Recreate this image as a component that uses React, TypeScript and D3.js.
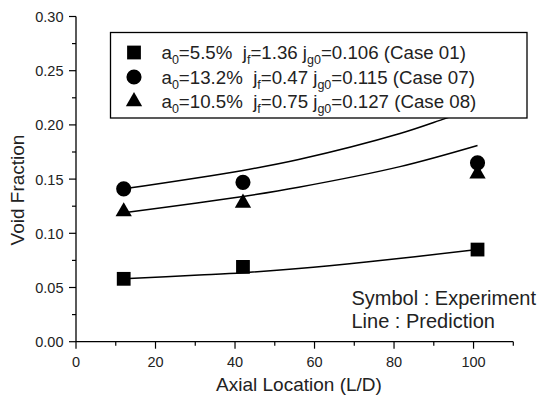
import React from 'react';
import * as d3 from 'd3';

const W = 541;
const H = 397;

// axis ticks
const xMajorTicks = [0, 20, 40, 60, 80, 100];
const xMinorTicks = [10, 30, 50, 70, 90, 110];
const yMajorTicks = [0, 0.05, 0.1, 0.15, 0.2, 0.25, 0.3];
const yMinorTicks = [0.025, 0.075, 0.125, 0.175, 0.225, 0.275];

// experiment (symbols)
const expX = [12, 42, 101];
const case01Exp = [0.058, 0.069, 0.085];
const case07Exp = [0.141, 0.147, 0.165];
const case08Exp = [0.12, 0.128, 0.155];

// prediction (lines)
const predX01 = [12, 31, 42, 56, 73, 101];
const case01Pred = [0.058, 0.0615, 0.0637, 0.0675, 0.0735, 0.085];
const predX07 = [12, 42, 56, 81.5, 93, 101];
const case07Pred = [0.141, 0.158, 0.168, 0.192, 0.206, 0.216];
const predX08 = [12, 42, 56, 81.5, 101];
const case08Pred = [0.119, 0.134, 0.1425, 0.1615, 0.181];

// legend
const legendA0 = ['5.5%', '13.2%', '10.5%'];
const legendJf = ['1.36', '0.47', '0.75'];
const legendJg0 = ['0.106', '0.115', '0.127'];
const legendCase = ['Case 01', 'Case 07', 'Case 08'];

const FONT = '"Liberation Sans", Arial, Helvetica, sans-serif';

export default function App() {
  const x = d3.scaleLinear().domain([0, 110]).range([76, 513.3]);
  const y = d3.scaleLinear().domain([0, 0.3]).range([341.7, 16.5]);

  const line = (xs: number[], ys: number[]) =>
    d3
      .line<number>()
      .x((_, i) => x(xs[i]))
      .y((d) => y(d))
      .curve(d3.curveCatmullRom.alpha(0.5))(ys) as string;

  const sq = d3.symbol().type(d3.symbolSquare).size(190)() as string;
  const ci = d3.symbol().type(d3.symbolCircle).size(180)() as string;
  const tr = d3.symbol().type(d3.symbolTriangle).size(115)() as string;
  const shapes = [sq, ci, tr];
  const expSeries = [case01Exp, case07Exp, case08Exp];
  const predSeries: [number[], number[]][] = [
    [predX01, case01Pred],
    [predX07, case07Pred],
    [predX08, case08Pred],
  ];

  const x0 = x(0);
  const y0 = y(0);

  const legendRowsY = [52.5, 77, 101.5];

  return (
    <svg
      width={W}
      height={H}
      style={{ position: 'absolute', left: 0, top: 0, background: '#fff' }}
      fontFamily={FONT}
    >
      <rect x={0} y={0} width={W} height={H} fill="#fff" />
      {/* prediction lines */}
      {predSeries.map(([xs, ys], i) => (
        <path key={'p' + i} d={line(xs, ys)} fill="none" stroke="#000" strokeWidth={1.5} />
      ))}
      {/* experiment symbols */}
      {expSeries.map((vals, si) =>
        vals.map((v, i) => (
          <path
            key={'e' + si + '-' + i}
            d={shapes[si]}
            transform={`translate(${x(expX[i])},${y(v)})`}
            fill="#000"
          />
        ))
      )}

      {/* axes */}
      <line x1={x0} x2={x0} y1={y(0.3)} y2={y0} stroke="#000" strokeWidth={1.3} />
      <line x1={x0} x2={x(110)} y1={y0} y2={y0} stroke="#000" strokeWidth={1.3} />
      {xMajorTicks.map((t) => (
        <g key={'xt' + t}>
          <line x1={x(t)} x2={x(t)} y1={y0} y2={y0 + 7} stroke="#000" strokeWidth={1.2} />
          <text x={x(t)} y={366.5} fontSize={14.5} textAnchor="middle" fill="#222">
            {t}
          </text>
        </g>
      ))}
      {xMinorTicks.map((t) => (
        <line key={'xm' + t} x1={x(t)} x2={x(t)} y1={y0} y2={y0 + 4} stroke="#000" strokeWidth={1.2} />
      ))}
      {yMajorTicks.map((t) => (
        <g key={'yt' + t}>
          <line x1={x0 - 7} x2={x0} y1={y(t)} y2={y(t)} stroke="#000" strokeWidth={1.2} />
          <text x={63.5} y={y(t) + 5.5} fontSize={14.5} textAnchor="end" fill="#222">
            {t.toFixed(2)}
          </text>
        </g>
      ))}
      {yMinorTicks.map((t) => (
        <line key={'ym' + t} x1={x0 - 4} x2={x0} y1={y(t)} y2={y(t)} stroke="#000" strokeWidth={1.2} />
      ))}

      {/* axis titles */}
      <text x={299} y={390.5} fontSize={19} textAnchor="middle" fill="#222">
        Axial Location (L/D)
      </text>
      <text
        transform="translate(23.5,190) rotate(-90)"
        fontSize={19}
        textAnchor="middle"
        fill="#222"
      >
        Void Fraction
      </text>

      {/* annotation */}
      <text x={351.5} y={305} fontSize={20} fill="#222" style={{ whiteSpace: 'pre' }}>
        Symbol : Experiment
      </text>
      <text x={351.5} y={327.5} fontSize={20} fill="#222" style={{ whiteSpace: 'pre' }}>
        Line : Prediction
      </text>

      {/* legend */}
      <rect x={110.5} y={32.5} width={416.5} height={85.5} fill="#fff" stroke="#000" strokeWidth={1.3} />
      {legendRowsY.map((ry, i) => (
        <g key={'lg' + i}>
          <path d={shapes[i]} transform={`translate(134,${ry})`} fill="#000" />
          <text x={161.5} y={ry + 6.5} fontSize={18.7} fill="#222" style={{ whiteSpace: 'pre' }}>
            <tspan>a</tspan>
            <tspan fontSize={12.5} dy={5}>0</tspan>
            <tspan dy={-5}>{'=' + legendA0[i] + '  j'}</tspan>
            <tspan fontSize={12.5} dy={5}>f</tspan>
            <tspan dy={-5}>{'=' + legendJf[i] + ' j'}</tspan>
            <tspan fontSize={12.5} dy={5}>g0</tspan>
            <tspan dy={-5}>{'=' + legendJg0[i] + ' (' + legendCase[i] + ')'}</tspan>
          </text>
        </g>
      ))}
    </svg>
  );
}
